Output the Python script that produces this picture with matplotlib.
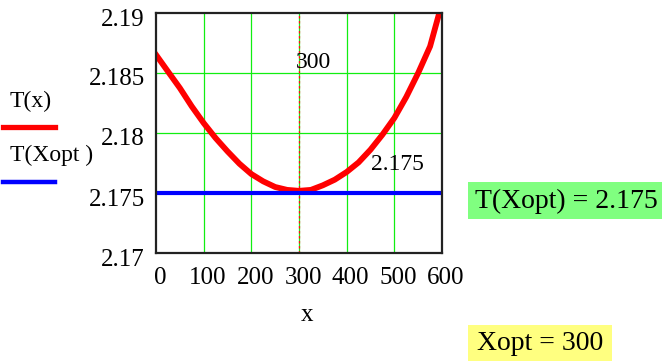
import matplotlib.pyplot as plt
import matplotlib.transforms as mtransforms
from matplotlib.patches import Rectangle
from matplotlib.lines import Line2D

plt.rcParams['font.family'] = ['Liberation Serif', 'DejaVu Serif']

# values
x_vals = [0, 25, 50, 75, 100, 125, 150, 175, 200, 225, 250, 275, 300,
          325, 350, 375, 400, 425, 450, 475, 500, 525, 550, 575, 600]
T_vals = [2.18652, 2.18513, 2.18375, 2.18222, 2.18083, 2.17958, 2.17847,
          2.17744, 2.17658, 2.17597, 2.17550, 2.17526, 2.17518,
          2.17526, 2.17564, 2.17611, 2.17675, 2.17755, 2.17861, 2.17986,
          2.18125, 2.18300, 2.18500, 2.18722, 2.19083]
x_opt = 300
T_opt = 2.175
x_ticks = [0, 100, 200, 300, 400, 500, 600]
y_ticks = [2.17, 2.175, 2.18, 2.185, 2.19]
y_labels = ['2.17', '2.175', '2.18', '2.185', '2.19']

W, H = 662, 361
fig = plt.figure(figsize=(W / 100, H / 100), dpi=100)

def fx(px):
    return px / W

def fy(py):
    return 1 - py / H

ax = fig.add_axes([fx(156), fy(253), (442 - 156) / W, (253 - 13) / H])
ax.set_xlim(0, 600)
ax.set_ylim(2.17, 2.19)

# grid
for gx in [100, 200, 300, 400, 500]:
    ax.axvline(gx, color='#11ee11', lw=0.9, zorder=1)
for gy in [2.175, 2.18, 2.185]:
    ax.axhline(gy, color='#11ee11', lw=0.9, zorder=1)

# markers at Xopt (red dashes over the green grid)
ax.axvline(x_opt, color='#ff1111', lw=0.9, ls=(0, (2, 2)), zorder=2)
ax.axhline(T_opt, color='#ff1111', lw=0.9, ls=(0, (2, 2)), zorder=2)

ax.plot(x_vals, T_vals, color='red', lw=4.2, zorder=3)
ax.plot([0, 600], [T_opt, T_opt], color='#0000ff', lw=3.0, zorder=4)

ax.text(x_opt - 6, 2.1859, f'{x_opt}', ha='left', va='center', fontsize=17)
ax.text(561, 2.1774, f'{T_opt}', ha='right', va='center', fontsize=17)

ax.set_xticks(x_ticks)
ax.set_yticks(y_ticks)
ax.set_yticklabels(y_labels)
ax.tick_params(length=0, labelsize=18)
ax.tick_params(axis='y', pad=8)
ax.tick_params(axis='x', pad=10)
shift = mtransforms.ScaledTranslation(0, -4 / 100, fig.dpi_scale_trans)
for lab in ax.get_yticklabels():
    lab.set_transform(lab.get_transform() + shift)
shift_x = mtransforms.ScaledTranslation(4 / 100, 0, fig.dpi_scale_trans)
for lab in ax.get_xticklabels():
    lab.set_transform(lab.get_transform() + shift_x)
for sp in ax.spines.values():
    sp.set_linewidth(1.6)
    sp.set_color('#222222')
    sp.set_zorder(5)

fig.text(fx(307), fy(315), 'x', ha='center', va='center', fontsize=18)

# legend on the left
fig.text(fx(10), fy(101), 'T(x)', ha='left', va='center', fontsize=17)
fig.add_artist(Line2D([fx(3), fx(55)], [fy(127), fy(127)], color='red', lw=3.8))
fig.text(fx(10), fy(155), 'T(Xopt )', ha='left', va='center', fontsize=17)
fig.add_artist(Line2D([fx(3), fx(55)], [fy(182), fy(182)], color='#0000ff', lw=3.2))

# result boxes
fig.add_artist(Rectangle((fx(468), fy(219)), fx(662 - 468), (219 - 182) / H,
                         facecolor='#80ff80', edgecolor='none'))
fig.text(fx(475), fy(201), f'T(Xopt) = {T_opt}', ha='left', va='center', fontsize=20)
fig.add_artist(Rectangle((fx(468), fy(361)), fx(612 - 468), (361 - 325) / H,
                         facecolor='#ffff80', edgecolor='none'))
fig.text(fx(477), fy(343), f'Xopt = {x_opt}', ha='left', va='center', fontsize=20)

fig.savefig('out.png', dpi=100)
